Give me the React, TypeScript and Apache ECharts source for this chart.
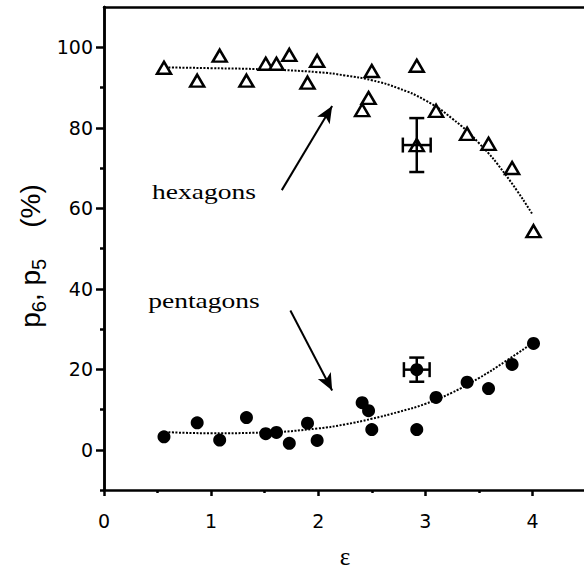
import React, { useEffect, useRef } from 'react';
import * as echarts from 'echarts';

// epsilon values of the measurements
const epsilon = [0.56, 0.87, 1.08, 1.33, 1.51, 1.61, 1.73, 1.9, 1.99, 2.41, 2.47, 2.5, 2.92, 3.1, 3.39, 3.59, 3.81, 4.01];
// p6 (hexagons, %)
const hexagons = [94.9, 91.7, 97.9, 91.7, 95.9, 95.9, 98.1, 91.2, 96.6, 84.4, 87.4, 94.1, 95.4, 84.2, 78.5, 76, 70, 54.3];
// p5 (pentagons, %)
const pentagons = [3.2, 6.7, 2.4, 8.0, 4.0, 4.3, 1.6, 6.6, 2.3, 11.7, 9.7, 5.0, 5.0, 13.0, 16.8, 15.2, 21.2, 26.4];

// dotted fit curves
const fitEps = [0.57, 1.0, 1.5, 2.0, 2.25, 2.5, 2.75, 3.0, 3.25, 3.5, 3.75, 4.0];
const hexFit = [95.0, 94.8, 94.5, 93.8, 93.0, 91.8, 89.8, 86.8, 82.3, 76.2, 68.3, 58.5];
const pentFit = [4.4, 4.1, 4.3, 5.3, 6.3, 7.7, 9.4, 11.4, 14.2, 17.8, 22.0, 26.5];

// points with error bars: [eps, value, epsErr, valueErr]
const hexErr = [[2.92, 75.7, 0.13, 6.7]];
const pentErr = [[2.92, 19.9, 0.12, 3.0]];

const xTicks = [0, 1, 2, 3, 4];
const yTicks = [0, 20, 40, 60, 80, 100];
const yMinorTicks = [-10, 10, 30, 50, 70, 90];

// annotation arrows in data coordinates: [from, to]
const hexArrow = [[1.66, 64.5], [2.13, 85.4]];
const pentArrow = [[1.74, 34.6], [2.13, 14.7]];

export default function App() {
  const ref = useRef<HTMLDivElement>(null);
  useEffect(() => {
    const chart = echarts.init(ref.current!, null, { renderer: 'svg' });

    const ctx = document.createElement('canvas').getContext('2d')!;
    const measure = (t: string, s: number) => {
      ctx.font = `${s}px "Liberation Sans"`;
      return ctx.measureText(t).width;
    };
    const big = 28, small = 20;
    const pieces: [string, number, number][] = [
      ['p', big, 0], ['6', small, 5], [',', big, 0], [' p', big, 0], ['5', small, 5], ['    (%)', big, 0],
    ];
    let cx = 0;
    const nameChildren = pieces.map(([t, s, dy]) => {
      const el = {
        type: 'text', x: cx, y: dy,
        style: { text: t, fontSize: s, fontFamily: 'Liberation Sans', fill: '#000', align: 'left', verticalAlign: 'bottom' },
      };
      cx += measure(t, s);
      return el;
    });
    const total = cx;

    const axisColor = '#000';
    const lw = 2.5;
    const errStyle = { stroke: '#000', lineWidth: 2.5 };

    const renderErr = (params: any, api: any) => {
      const x = api.value(0), y = api.value(1), ex = api.value(2), ey = api.value(3);
      const l = api.coord([x - ex, y]);
      const r = api.coord([x + ex, y]);
      const t = api.coord([x, y + ey]);
      const b = api.coord([x, y - ey]);
      const cap = 7.5;
      return {
        type: 'group',
        children: [
          { type: 'line', shape: { x1: l[0], y1: l[1], x2: r[0], y2: r[1] }, style: errStyle },
          { type: 'line', shape: { x1: t[0], y1: t[1], x2: b[0], y2: b[1] }, style: errStyle },
          { type: 'line', shape: { x1: l[0], y1: l[1] - cap, x2: l[0], y2: l[1] + cap }, style: errStyle },
          { type: 'line', shape: { x1: r[0], y1: r[1] - cap, x2: r[0], y2: r[1] + cap }, style: errStyle },
          { type: 'line', shape: { x1: t[0] - cap, y1: t[1], x2: t[0] + cap, y2: t[1] }, style: errStyle },
          { type: 'line', shape: { x1: b[0] - cap, y1: b[1], x2: b[0] + cap, y2: b[1] }, style: errStyle },
        ],
      };
    };

    const arrowMark = (a: number[][]) => ({
      silent: true,
      symbol: ['none', 'arrow'],
      symbolSize: [11, 17],
      label: { show: false },
      lineStyle: { color: '#000', width: 2, type: 'solid' },
      itemStyle: { color: '#000' },
      data: [[{ coord: a[0] }, { coord: a[1] }]],
    });

    const option: any = {
      animation: false,
      backgroundColor: '#fff',
      grid: {
        left: 104, top: 7, right: -2, bottom: 80, show: false,
        containLabel: false, outerBoundsMode: 'none',
      },
      xAxis: [
        {
          type: 'value', min: 0, max: 4.5, interval: 1,
          axisLine: { onZero: false, lineStyle: { color: axisColor, width: lw } },
          axisTick: { length: 6, lineStyle: { color: axisColor, width: lw }, customValues: xTicks },
          minorTick: { show: true, splitNumber: 2, length: 3, lineStyle: { color: axisColor, width: lw } },
          splitLine: { show: false },
          minorSplitLine: { show: false },
          axisLabel: { color: '#000', fontSize: 19, fontFamily: 'DejaVu Sans', margin: 21, customValues: xTicks },
          name: 'ε', nameLocation: 'middle', nameGap: 54,
          nameTextStyle: { color: '#000', fontFamily: 'Liberation Serif', fontSize: 25 },
        },
        {
          type: 'value', min: 0, max: 4.5, position: 'top',
          axisLine: { show: true, onZero: false, lineStyle: { color: axisColor, width: lw } },
          axisTick: { show: false },
          axisLabel: { show: false },
          splitLine: { show: false },
        },
      ],
      yAxis: [
        {
          type: 'value', min: -10, max: 110,
          axisLine: { onZero: false, lineStyle: { color: axisColor, width: lw } },
          axisTick: { length: 8, lineStyle: { color: axisColor, width: lw }, customValues: yTicks },
          splitLine: { show: false },
          axisLabel: { color: '#000', fontSize: 19, fontFamily: 'DejaVu Sans', margin: 11, customValues: yTicks },
        },
        {
          type: 'value', min: -10, max: 110, position: 'left', offset: 0,
          axisLine: { show: true, onZero: false, lineStyle: { color: axisColor, width: lw } },
          axisTick: { show: true, length: 4, lineStyle: { color: axisColor, width: lw }, customValues: yMinorTicks },
          splitLine: { show: false },
          axisLabel: { show: false },
        },
      ],
      series: [
        {
          type: 'line', name: 'hexFit', data: fitEps.map((x, i) => [x, hexFit[i]]), smooth: true,
          symbol: 'none', lineStyle: { color: '#000', width: 2, type: [2, 1.5] }, z: 2,
          markLine: arrowMark(hexArrow),
        },
        {
          type: 'line', name: 'pentFit', data: fitEps.map((x, i) => [x, pentFit[i]]), smooth: true,
          symbol: 'none', lineStyle: { color: '#000', width: 2, type: [2, 1.5] }, z: 2,
          markLine: arrowMark(pentArrow),
        },
        {
          type: 'custom', name: 'err', renderItem: renderErr, data: [...hexErr, ...pentErr],
          encode: { x: 0, y: 1 }, z: 3,
        },
        {
          type: 'scatter', name: 'hexagons', data: epsilon.map((x, i) => [x, hexagons[i]]),
          symbol: 'triangle', symbolSize: [14, 12],
          itemStyle: { color: '#fff', borderColor: '#000', borderWidth: 2.5, opacity: 1 }, z: 4,
        },
        {
          type: 'scatter', name: 'hexErrPt', data: hexErr.map(d => [d[0], d[1]]),
          symbol: 'triangle', symbolSize: [14, 12],
          itemStyle: { color: 'rgba(0,0,0,0)', borderColor: '#000', borderWidth: 2.5, opacity: 1 }, z: 4,
        },
        {
          type: 'scatter', name: 'pentagons', data: epsilon.map((x, i) => [x, pentagons[i]]),
          symbol: 'circle', symbolSize: 13, itemStyle: { color: '#000', opacity: 1 }, z: 4,
        },
        {
          type: 'scatter', name: 'pentErrPt', data: pentErr.map(d => [d[0], d[1]]),
          symbol: 'circle', symbolSize: 13, itemStyle: { color: '#000', opacity: 1 }, z: 4,
        },
      ],
      graphic: [
        {
          type: 'text', x: 204, y: 191, scaleX: 1.25,
          style: { text: 'hexagons', fontFamily: 'Liberation Serif', fontSize: 22, fill: '#000', align: 'center', verticalAlign: 'middle' },
        },
        {
          type: 'text', x: 204, y: 300, scaleX: 1.25,
          style: { text: 'pentagons', fontFamily: 'Liberation Serif', fontSize: 22, fill: '#000', align: 'center', verticalAlign: 'middle' },
        },
        {
          type: 'group', x: 44, y: 256 + total / 2, rotation: Math.PI / 2,
          children: nameChildren,
        },
      ],
    };
    chart.setOption(option);
    return () => chart.dispose();
  }, []);
  return <div ref={ref} style={{ position: 'absolute', left: 0, top: 0, width: 584, height: 570 }} />;
}
